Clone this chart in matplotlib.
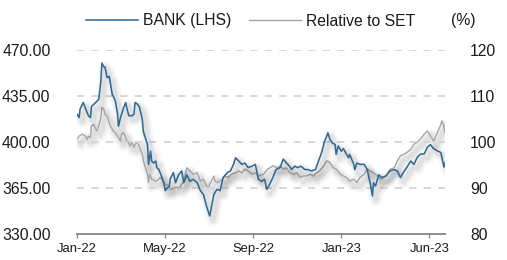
import matplotlib
matplotlib.use("Agg")
import matplotlib.pyplot as plt
import matplotlib.patheffects as pe

plt.rcParams['font.family'] = ['Liberation Sans', 'DejaVu Sans']

# trading-day index and values
bank_day = [0, 2, 3, 6, 8, 10, 11, 13, 14, 18, 21, 23, 24, 26, 27, 29, 31, 32, 34, 35,
            37, 39, 40, 42, 43, 45, 47, 48, 50, 53, 55, 56, 58, 60, 61, 63, 64, 66, 68, 69,
            71, 72, 74, 76, 77, 79, 80, 82, 84, 85, 87, 89, 90, 93, 95, 98, 101, 103, 106, 109,
            112, 116, 119, 122, 125, 128, 132, 135, 138, 141, 145, 148, 151, 153, 156, 159, 162, 165, 169, 172,
            175, 178, 181, 183, 186, 189, 192, 196, 199, 202, 205, 207, 210, 213, 216, 220, 223, 226, 230, 233,
            236, 239, 241, 242, 244, 246, 249, 250, 252, 255, 257, 259, 262, 263, 267, 268, 270, 273, 277, 280,
            283, 285, 286, 288, 291, 294, 298, 302, 306, 309, 312, 315, 318, 322, 325, 328, 331, 335, 338, 341,
            344, 347, 351, 352, 354, 355]
bank_val = [421, 418.6, 425, 430, 426, 422, 420, 418.6, 427, 430, 432.5, 446, 460, 457, 457, 449, 450, 446, 436, 435,
            431, 422, 412, 418.6, 421, 426, 430, 426, 420, 420, 421, 430, 429, 427, 424, 417, 408, 403, 398, 383,
            393, 385.5, 384, 385.5, 380.5, 379, 377, 373, 368, 363, 365, 366, 372, 376.7, 369, 375, 378, 369, 375, 370,
            371.6, 369, 363, 360, 351, 343.7, 360, 364, 363, 373, 376.7, 378, 383, 388, 385.5, 383, 384, 380.5, 381.6, 383,
            371.6, 370, 371.6, 364, 368, 373, 379, 380.5, 387, 384, 381.6, 379, 381.6, 380.5, 381.6, 379, 379, 378, 379, 385.5,
            392, 401, 404.6, 407, 402, 399.5, 398, 390.6, 397, 393, 395, 392, 388, 390.6, 383, 379, 384, 383, 383, 379,
            368, 359, 369, 366.5, 375, 373, 374, 378, 379, 378, 373, 377, 380.5, 385.5, 383, 388, 390.6, 391, 396, 398,
            395, 393.5, 392, 388, 381, 384]

rel_day = [0, 2, 5, 8, 10, 11, 13, 14, 16, 18, 19, 21, 23, 24, 26, 27, 29, 31, 32, 34,
           35, 37, 39, 40, 42, 43, 45, 47, 48, 50, 51, 53, 55, 56, 58, 60, 61, 63, 64, 66,
           68, 69, 70, 72, 76, 79, 80, 82, 85, 89, 90, 95, 99, 103, 106, 109, 112, 116, 119, 122,
           125, 127, 128, 132, 133, 136, 140, 143, 146, 149, 153, 156, 159, 162, 165, 169, 172, 175, 180, 184,
           189, 193, 196, 199, 202, 205, 209, 212, 215, 218, 221, 225, 228, 231, 234, 238, 241, 244, 247, 250,
           254, 257, 260, 263, 267, 270, 273, 277, 280, 283, 286, 290, 293, 296, 299, 302, 306, 309, 312, 315,
           318, 322, 325, 328, 331, 335, 338, 341, 344, 347, 351, 352, 354, 355]
rel_val = [100.6, 101.3, 101.7, 101.3, 100.6, 101.3, 101, 103.5, 103.8, 102.8, 102.4, 103.5, 105.3, 107.5, 107.1, 106, 105.7, 104.2, 103.5, 102.8,
           102.4, 102, 101.3, 101, 100.2, 101.7, 102, 101, 100.2, 99.9, 99.1, 99.9, 98.8, 99.5, 99.9, 99.1, 98.4, 97.3, 95.9, 94.4,
           93, 91.2, 93, 91.9, 91.5, 91.9, 92.3, 91.9, 90.8, 90.4, 89.7, 90.1, 90.1, 91.5, 94.4, 93.7, 93, 93.3, 91.5, 91.9,
           90.4, 90.1, 90.8, 92.6, 91.5, 91.2, 91.9, 92.6, 92.3, 93, 93.3, 93.7, 93.3, 94.1, 93.7, 93, 93.3, 92.6, 93, 94.1,
           94.8, 94.4, 94.8, 94.1, 94.4, 93.3, 93, 93.3, 92.3, 92.6, 92.6, 93, 92.6, 93.3, 93.7, 94.8, 95.9, 95.5, 94.4, 94.1,
           93, 92.6, 92.3, 91.5, 91.9, 91.2, 92.3, 93, 94.1, 93.7, 93.3, 92.6, 91.9, 92.3, 93, 94.1, 94.4, 95.9, 97, 97.3,
           97.7, 98.4, 99.5, 99.9, 100.6, 101.7, 102.4, 101.3, 100.2, 101.7, 103.8, 104.6, 103.5, 102]

tick_days = [0, 85, 170, 255, 340]
tick_labels = ['Jan-22', 'May-22', 'Sep-22', 'Jan-23', 'Jun-23']
left_ticks = [330, 365, 400, 435, 470]
right_ticks = [80, 90, 100, 110, 120]

BLUE = '#2f6a94'
GREY = '#a6a6a6'
TXT = '#1a1a1a'

fig = plt.figure(figsize=(5.07, 2.60), dpi=100)
ax = fig.add_axes([77/507, 1-234/260, (445-77)/507, (234-50)/260])
ax2 = ax.twinx()

shadow = [pe.SimpleLineShadow(offset=(2.5, -3), shadow_color='#000000', alpha=0.03, linewidth=9),
          pe.SimpleLineShadow(offset=(2.5, -3), shadow_color='#000000', alpha=0.04, linewidth=6),
          pe.SimpleLineShadow(offset=(2.5, -3), shadow_color='#000000', alpha=0.05, linewidth=3.5),
          pe.Normal()]

ax2.plot(rel_day, rel_val, color=GREY, lw=1.0, path_effects=shadow, zorder=2)
ax.plot(bank_day, bank_val, color=BLUE, lw=1.15, path_effects=shadow, zorder=3)

ax.set_zorder(ax2.get_zorder() + 1)
ax.patch.set_visible(False)

ax.set_xlim(0, 355)
ax.set_ylim(330, 470)
ax2.set_ylim(80, 120)

for y in left_ticks[1:]:
    ax.axhline(y, color='#d4d4d4', lw=1.3, ls=(0, (4, 4)), zorder=0)

ax.set_yticks(left_ticks)
ax.set_yticklabels([f'{v:.2f}' for v in left_ticks])
ax2.set_yticks(right_ticks)
ax2.set_yticklabels([str(v) for v in right_ticks])
ax.set_xticks(tick_days)
ax.set_xticklabels(tick_labels)

for a in (ax, ax2):
    for s in ('left', 'right', 'top'):
        a.spines[s].set_visible(False)
ax2.spines['bottom'].set_visible(False)
ax.spines['bottom'].set_color('#8c8c8c')
ax.spines['bottom'].set_linewidth(1.4)

ax.tick_params(axis='y', length=0, pad=19, labelsize=11.3, labelcolor=TXT)
ax2.tick_params(axis='y', length=0, pad=18, labelsize=11.3, labelcolor=TXT)
ax.tick_params(axis='x', direction='out', length=3, width=1, color='#8c8c8c',
               pad=3.5, labelsize=9.4, labelcolor=TXT)

h1 = ax.get_lines()[0]
h2 = ax2.get_lines()[0]
leg = fig.legend([h1, h2], ['BANK (LHS)', 'Relative to SET'], ncol=2, frameon=False,
                 loc='center left', bbox_to_anchor=(86/507, 1-21/260), borderpad=0,
                 borderaxespad=0, handlelength=3.3, handletextpad=0.35, columnspacing=1.1,
                 prop={'size': 11.3})
for t in leg.get_texts():
    t.set_color(TXT)
for l in leg.get_lines():
    l.set_path_effects([])
fig.text(451/507, 1-21/260, '(%)', ha='left', va='center', fontsize=11.3, color=TXT)

fig.savefig('out.png', dpi=100)
